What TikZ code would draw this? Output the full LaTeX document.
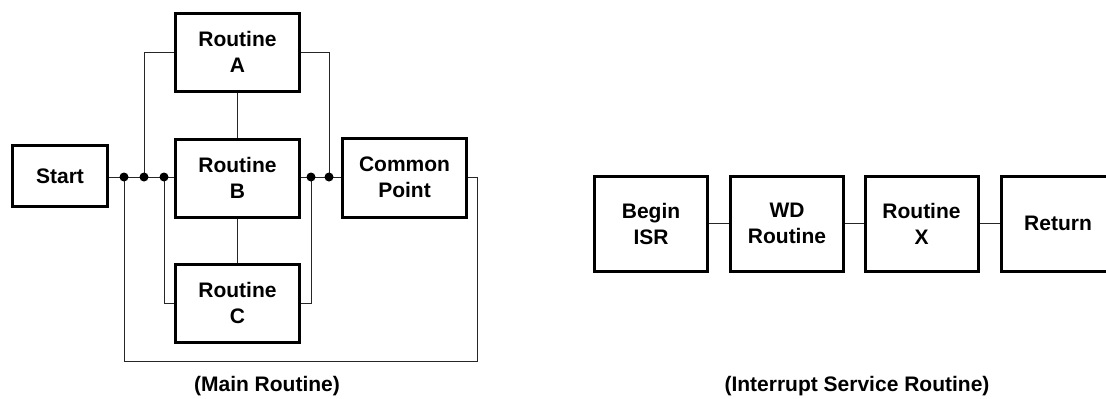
\documentclass[tikz,border=0pt]{standalone}
\usepackage{fontspec}
\setmainfont{Liberation Sans}
\begin{document}
\begin{tikzpicture}[x=1pt,y=-1pt,
  box/.style={draw, line width=3pt, align=center, inner sep=0pt,
    font=\fontsize{21}{26}\selectfont\bfseries},
  mainbox/.style={box, minimum width=124pt, minimum height=78pt},
  isrbox/.style={box, minimum width=113pt, minimum height=95pt},
  wire/.style={line width=1pt, draw=black!85},
  caption/.style={font=\fontsize{21}{26}\selectfont\bfseries, inner sep=0pt}]
\useasboundingbox (0,0) rectangle (1106,399);
% main routine
\node[box, minimum width=95pt, minimum height=61pt] (start) at (60,176) {Start};
\node[mainbox] (ra) at (237.5,52) {Routine\\A};
\node[mainbox] (rb) at (237.5,178) {Routine\\B};
\node[mainbox] (rc) at (237.5,303) {Routine\\C};
\node[mainbox, minimum height=79pt] (cp) at (404.5,177.5) {Common\\Point};
\coordinate (d1) at (124,177);
\coordinate (d2) at (144,177);
\coordinate (d3) at (164,177);
\coordinate (d4) at (311,177);
\coordinate (d5) at (329,177);
\coordinate (lb) at (124,361);
\coordinate (rbc) at (477,361);
\draw[wire] (start.east |- d1) -- (rb.west |- d1);
\draw[wire] (rb.east |- d4) -- (cp.west |- d4);
\draw[wire] (ra.west) -| (d2);
\draw[wire] (ra.east) -| (d5);
\draw[wire] (rc.west) -| (d3);
\draw[wire] (rc.east) -| (d4);
\draw[wire] (ra.south) -- (rb.north);
\draw[wire] (rb.south) -- (rc.north);
\draw[wire] (d1) -- (lb) -- (rbc) |- (cp.east |- d1);
\foreach \d in {d1,d2,d3,d4,d5} \fill (\d) circle (4.5);
\node[caption] (lmain) at (267,386) {(Main Routine)};
% interrupt service routine
\node[isrbox] (i1) at (651,223.5) {Begin\\ISR};
\node[isrbox] (i2) at (787,223.5) {WD\\Routine};
\node[isrbox] (i3) at (921.5,223.5) {Routine\\X};
\node[isrbox] (i4) at (1058,223.5) {Return};
\draw[wire] (i1) -- (i2);
\draw[wire] (i2) -- (i3);
\draw[wire] (i3) -- (i4);
\node[caption] (lisr) at (857,386) {(Interrupt Service Routine)};
\end{tikzpicture}
\end{document}
